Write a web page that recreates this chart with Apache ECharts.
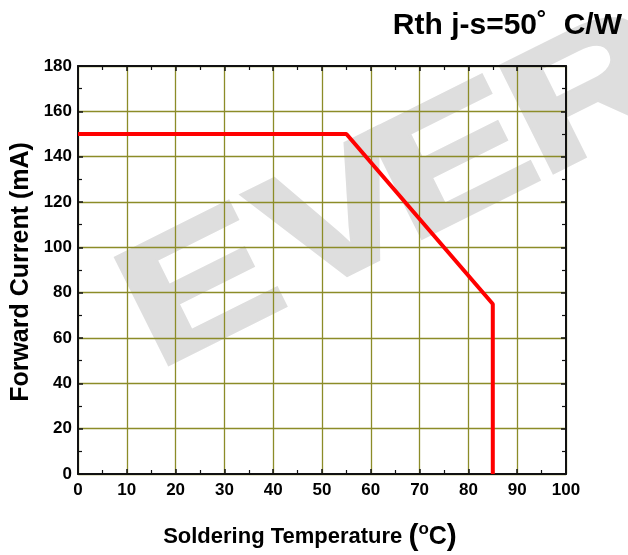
<!DOCTYPE html>
<html><head><meta charset="utf-8">
<script src="https://cdn.jsdelivr.net/npm/echarts@6/dist/echarts.min.js"></script>
<style>html,body{margin:0;padding:0;background:#fff}#c{width:628px;height:555px}</style>
</head><body><div id="c"></div>
<script>
const xTicks = [0,10,20,30,40,50,60,70,80,90,100];
const yTicks = [0,20,40,60,80,100,120,140,160,180];
const tempC = [0, 55, 85, 85];
const currentMA = [150, 150, 75, 0];
const titleText = 'Rth j-s=50\u02da  C/W';
const xName = 'Soldering Temperature';
const yName = 'Forward Current (mA)';
const watermarkLetters = ['E', 'V', 'E', 'R'];

const chart = echarts.init(document.getElementById('c'));
const F = '"Liberation Sans", Arial, sans-serif';
const gridColor = '#8c8c28';
const axisBase = (pos, isX, show) => ({
  type: 'value', position: pos, min: isX ? xTicks[0] : yTicks[0],
  max: isX ? xTicks[xTicks.length-1] : yTicks[yTicks.length-1],
  interval: isX ? 10 : 20,
  axisLine: {show: true, onZero: false, lineStyle: {color: '#111', width: 2}},
  axisTick: {show: true, inside: true, length: 5, lineStyle: {color: '#111', width: 1.5}},
  minorTick: {show: true, splitNumber: 2, length: 4, lineStyle: {color: '#111', width: 1.2}},
  splitLine: {show: show, lineStyle: {color: gridColor, width: 1.3}},
  axisLabel: {show: show, fontFamily: F, fontWeight: 'bold', fontSize: 17, color: '#000', margin: isX ? 8 : 6}
});
const xMain = axisBase('bottom', true, true);
const xTop = axisBase('top', true, false);
const yMain = axisBase('left', false, true);
const yRight = axisBase('right', false, false);

// watermark (decorative): letters placed along a rotated baseline
const wmAngle = 26.5 * Math.PI / 180;
const wmFont = 172, wmScale = 1.33;
const ux = Math.cos(wmAngle), uy = -Math.sin(wmAngle);
const vx = -Math.sin(wmAngle), vy = -Math.cos(wmAngle);
const wmStart = [176.3, 373.7];
const wmOffsets = [[0, 16.7], [140, 2], [283, 16.7], [430, 16.7]];
const mid = 0.3465 * wmFont;
const wmGraphics = watermarkLetters.map((ch, i) => {
  const s = wmOffsets[i][0] - wmOffsets[i][1];
  return {type: 'text', z: -1, x: wmStart[0] + ux * s + vx * mid, y: wmStart[1] + uy * s + vy * mid,
    rotation: wmAngle, scaleX: wmScale, scaleY: 1,
    style: {text: ch, font: 'bold ' + wmFont + 'px "Liberation Sans", Arial, sans-serif', fill: '#dedede',
      stroke: '#dedede', lineWidth: 4, textAlign: 'left', textVerticalAlign: 'middle'}};
});

chart.setOption({
  backgroundColor: '#fff',
  animation: false,
  grid: {left: 78, right: 62, top: 66, bottom: 81, containLabel: false},
  xAxis: [xMain, xTop],
  yAxis: [yMain, yRight],
  graphic: wmGraphics.concat([
    {type: 'text', right: 6, top: 11,
     style: {text: titleText, font: 'bold 30px "Liberation Sans", Arial, sans-serif', fill: '#000'}},
    {type: 'text', x: 21, y: 272, rotation: Math.PI / 2,
     style: {text: yName, font: 'bold 25px "Liberation Sans", Arial, sans-serif', fill: '#000', textAlign: 'center', textVerticalAlign: 'middle'}},
    {type: 'text', x: 310, y: 537,
     style: {text: '{a|' + xName + ' }{p|(}{s|o}{c|C}{p|)}', textAlign: 'center', textVerticalAlign: 'middle',
       rich: {
         a: {font: 'bold 22px "Liberation Sans", Arial, sans-serif', fill: '#000'},
         c: {font: 'bold 25px "Liberation Sans", Arial, sans-serif', fill: '#000'},
         p: {font: 'bold 30px "Liberation Sans", Arial, sans-serif', fill: '#000'},
         s: {font: 'bold 17px "Liberation Sans", Arial, sans-serif', fill: '#000', verticalAlign: 'top', padding: [0,0,16,0]}
       }}}
  ]),
  series: [{
    type: 'line', data: tempC.map((t, i) => [t, currentMA[i]]), symbol: 'none',
    lineStyle: {color: '#ff0000', width: 4}, z: 5
  }]
});
</script></body></html>
